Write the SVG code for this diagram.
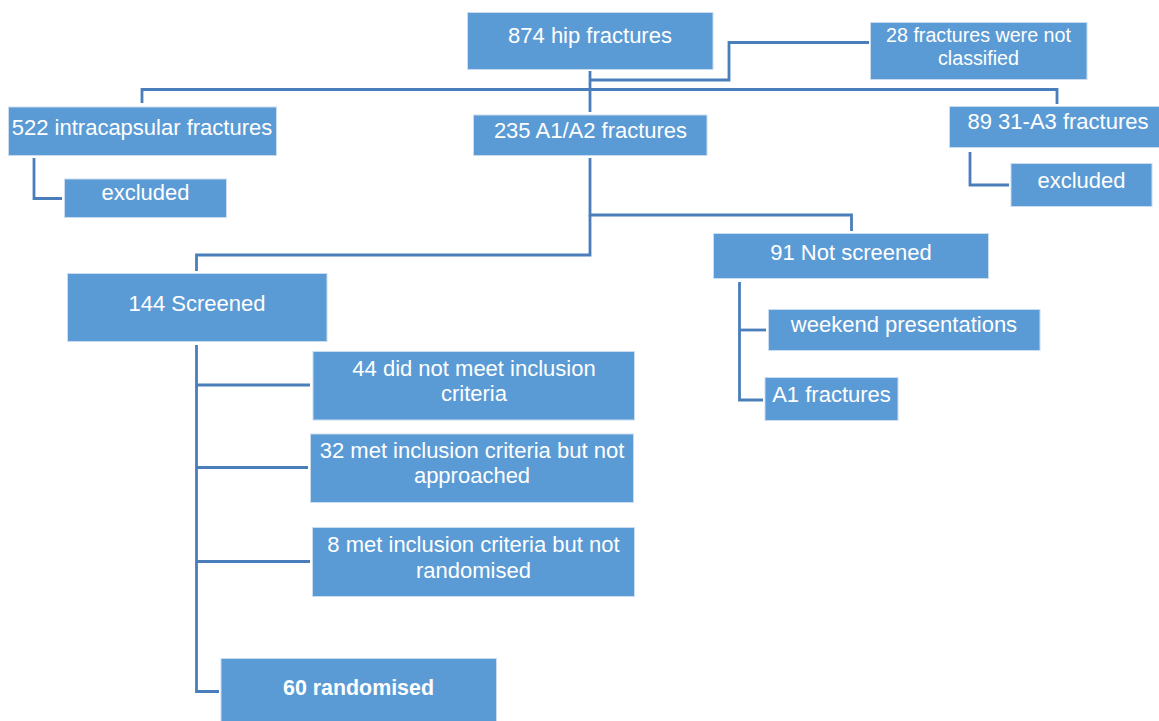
<svg xmlns="http://www.w3.org/2000/svg" width="1159" height="721" viewBox="0 0 1159 721">
<style>
.box{fill:#5B9BD5;stroke:#C9DCF0;stroke-width:1}
.t{font-family:"Liberation Sans",Arial,sans-serif;font-size:22px;fill:#ffffff;text-anchor:middle}
.s{font-size:19.7px}
.b{font-weight:bold;font-size:21.4px}
.c{fill:none;stroke:#4A7EBB;stroke-width:2.8;stroke-linejoin:miter}
</style>
<rect width="1159" height="721" fill="#ffffff"/>
<g id="connectors">
<path class="c" d="M590,71 V112"/>
<path class="c" d="M142,103 V89.5 H1057 V104"/>
<path class="c" d="M590,80 H729 V42.5 H869"/>
<path class="c" d="M34,158 V198.5 H62"/>
<path class="c" d="M970,152 V185 H1009"/>
<path class="c" d="M590,158 V215 H851.5 V231"/>
<path class="c" d="M590,215 V255 H196.5 V271"/>
<path class="c" d="M196.5,345 V691.5 H219"/>
<path class="c" d="M196.5,385 H310"/>
<path class="c" d="M196.5,467.5 H308"/>
<path class="c" d="M196.5,561.5 H310"/>
<path class="c" d="M739.5,282 V400 H763"/>
<path class="c" d="M739.5,330 H766"/>
</g>
<g id="n874">
<rect class="box" x="467.5" y="12.5" width="245.5" height="57"/>
<text class="t" x="590" y="42.5">874 hip fractures</text>
</g>
<g id="n28">
<rect class="box" x="870.5" y="22.5" width="216.5" height="57"/>
<text class="t s" x="978.5" y="41.5">28 fractures were not</text>
<text class="t s" x="978.5" y="64.5">classified</text>
</g>
<g id="n522">
<rect class="box" x="8.5" y="107" width="268" height="48.5"/>
<text class="t" x="142" y="134.5">522 intracapsular fractures</text>
</g>
<g id="n235">
<rect class="box" x="473.5" y="115" width="233.5" height="40.5"/>
<text class="t" x="590.5" y="137.5">235 A1/A2 fractures</text>
</g>
<g id="n89">
<rect class="box" x="949.5" y="106.5" width="215" height="41"/>
<text class="t" x="1058" y="129">89 31-A3 fractures</text>
</g>
<g id="excl1">
<rect class="box" x="64.5" y="179" width="162" height="38.5"/>
<text class="t" x="145.5" y="200">excluded</text>
</g>
<g id="excl2">
<rect class="box" x="1011" y="163.5" width="141" height="43"/>
<text class="t" x="1081.5" y="188">excluded</text>
</g>
<g id="n91">
<rect class="box" x="713.5" y="233.5" width="275" height="45"/>
<text class="t" x="851" y="259.5">91 Not screened</text>
</g>
<g id="weekend">
<rect class="box" x="768.5" y="309.5" width="271.5" height="41"/>
<text class="t" x="904" y="332">weekend presentations</text>
</g>
<g id="a1">
<rect class="box" x="765" y="377.5" width="133" height="43"/>
<text class="t" x="831.5" y="401.5">A1 fractures</text>
</g>
<g id="n144">
<rect class="box" x="67.5" y="273.5" width="259.5" height="68"/>
<text class="t" x="197" y="310.5">144 Screened</text>
</g>
<g id="n44">
<rect class="box" x="313" y="351.5" width="321.5" height="68.5"/>
<text class="t" x="474" y="375.5">44 did not meet inclusion</text>
<text class="t" x="474" y="400.5">criteria</text>
</g>
<g id="n32">
<rect class="box" x="310.5" y="434" width="323" height="68.5"/>
<text class="t" x="472" y="458">32 met inclusion criteria but not</text>
<text class="t" x="472" y="483">approached</text>
</g>
<g id="n8">
<rect class="box" x="312.5" y="527.5" width="322" height="69"/>
<text class="t" x="473.5" y="552">8 met inclusion criteria but not</text>
<text class="t" x="473.5" y="577.5">randomised</text>
</g>
<g id="n60">
<rect class="box" x="221" y="658.5" width="275.5" height="70"/>
<text class="t b" x="358.5" y="695">60 randomised</text>
</g>
</svg>
